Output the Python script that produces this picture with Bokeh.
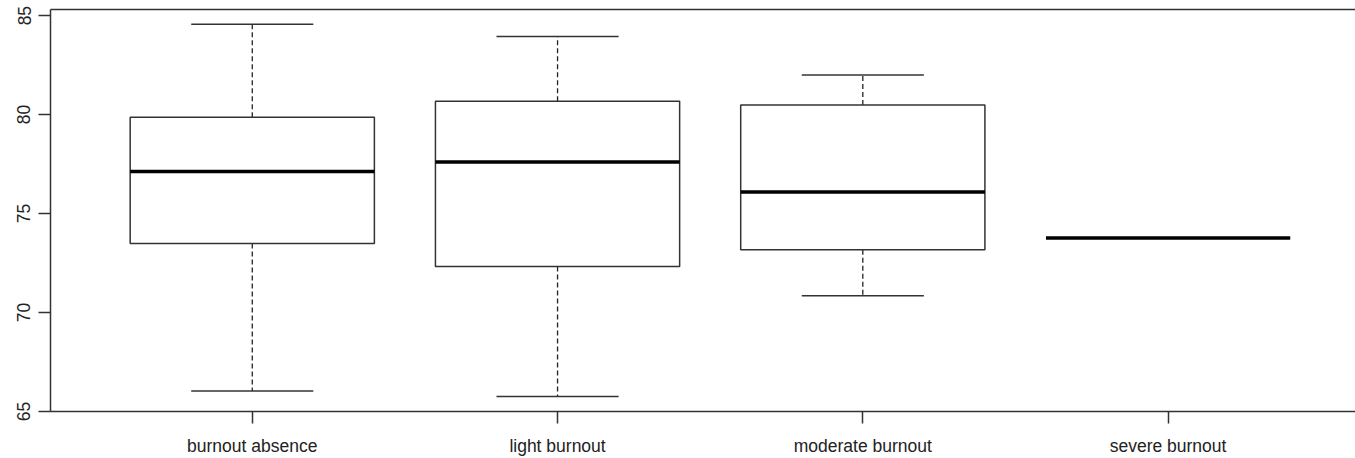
import numpy as np
from bokeh.plotting import figure
from bokeh.models import ColumnDataSource, FixedTicker, LinearAxis, Range1d
from bokeh.embed import file_html
from bokeh.resources import INLINE

# ---- data ----
categories = ["burnout absence", "light burnout", "moderate burnout", "severe burnout"]
lower_whisker = [66.04, 65.75, 70.85, 73.77]
q1 = [73.49, 72.33, 73.17, 73.77]
median = [77.13, 77.60, 76.09, 73.77]
q3 = [79.86, 80.67, 80.49, 73.77]
upper_whisker = [84.56, 83.94, 82.00, 73.77]
y_ticks = [65, 70, 75, 80, 85]

pos = np.arange(1, len(categories) + 1)
box_half = 0.4
cap_half = 0.2

src = ColumnDataSource(dict(
    x=pos,
    left=pos - box_half, right=pos + box_half,
    cap_l=pos - cap_half, cap_r=pos + cap_half,
    lo=lower_whisker, q1=q1, med=median, q3=q3, hi=upper_whisker,
))

LINE = "#333333"
FONT = "Liberation Sans"
FS = "17.5px"

p = figure(width=1355, height=458, output_backend="svg", toolbar_location=None,
           x_range=Range1d(0.339, 4.614), y_range=Range1d(64.998, 85.31),
           min_border_left=50, min_border_right=0, min_border_top=9, min_border_bottom=45)
p.outline_line_color = None
p.grid.visible = False
p.background_fill_color = "white"
p.border_fill_color = "white"

# whiskers
p.segment(x0="x", y0="q3", x1="x", y1="hi", source=src, line_color="#222222",
          line_width=1.3, line_dash="5 3")
p.segment(x0="x", y0="q1", x1="x", y1="lo", source=src, line_color="#222222",
          line_width=1.3, line_dash="5 3")
# caps
p.segment(x0="cap_l", y0="hi", x1="cap_r", y1="hi", source=src, line_color=LINE, line_width=1.5)
p.segment(x0="cap_l", y0="lo", x1="cap_r", y1="lo", source=src, line_color=LINE, line_width=1.5)
# boxes
p.quad(left="left", right="right", bottom="q1", top="q3", source=src,
       fill_color="white", line_color=LINE, line_width=1.5)
# medians
p.segment(x0="left", y0="med", x1="right", y1="med", source=src, line_color="black", line_width=3.5)

# x axis
xa = p.xaxis[0]
xa.ticker = FixedTicker(ticks=list(pos))
xa.major_label_overrides = {int(i): c for i, c in zip(pos, categories)}
xa.major_tick_in = 0
xa.major_tick_out = 12
xa.minor_tick_line_color = None
xa.major_label_standoff = 12

# y axis
ya = p.yaxis[0]
ya.ticker = FixedTicker(ticks=y_ticks)
ya.major_tick_in = 0
ya.major_tick_out = 12
ya.minor_tick_line_color = None
ya.major_label_orientation = "vertical"
ya.major_label_standoff = 8

for ax in (xa, ya):
    ax.axis_line_color = LINE
    ax.axis_line_width = 1.5
    ax.major_tick_line_color = LINE
    ax.major_tick_line_width = 1.5
    ax.major_label_text_font = FONT
    ax.major_label_text_font_size = FS
    ax.major_label_text_color = "#222222"

# top frame line
top = LinearAxis(ticker=FixedTicker(ticks=[]), major_tick_out=0, major_tick_in=0,
                 minor_tick_out=0, minor_tick_in=0, major_label_text_font_size="0px",
                 major_label_standoff=0, axis_line_color=LINE, axis_line_width=1.5)
p.add_layout(top, "above")

open("out.html", "w").write(file_html(p, INLINE))
